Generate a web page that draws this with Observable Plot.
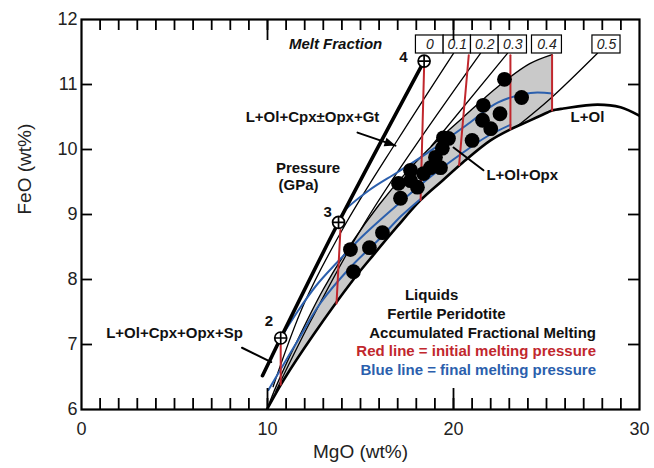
<!DOCTYPE html>
<html><head><meta charset="utf-8">
<script src="https://cdn.jsdelivr.net/npm/d3@7"></script>
<script src="https://cdn.jsdelivr.net/npm/@observablehq/plot@0.6"></script>
<style>body{margin:0;background:#fff} svg{font-family:"Liberation Sans",Arial,Helvetica,sans-serif}</style>
</head><body><div id="chart"></div>
<script>
// L+Ol boundary (lower edge of grey field)
const lowerX = [9.97,10.86,12.47,14.62,15.70,16.99,18.23,19.40,20.50,21.99,23.06,23.60,25.05,25.30,25.91,27.74,28.98,30.05];
const lowerY = [6.00,6.45,7.15,8.00,8.38,8.82,9.22,9.52,9.80,10.14,10.31,10.38,10.57,10.60,10.63,10.69,10.65,10.51];
// upper edge of grey field (0.4 melt fraction)
const upperX = [9.97,10.5,11.5,13.0,14.5,16.0,17.5,19.0,20.5,22.4,24.1,25.3];
const upperY = [6.00,6.38,7.00,7.85,8.55,9.15,9.66,10.10,10.49,10.97,11.32,11.46];
// solidus (melt fraction 0) with pressure marks
const solidusX = [9.73,10.71,13.82,18.42];
const solidusY = [6.52,7.10,8.88,11.36];
const pressureLabels = ["2","3","4"];
const pressureX = [10.71,13.82,18.42];
const pressureY = [7.10,8.88,11.36];
const pressureLabelX = [10.07,13.23,17.31];
const pressureLabelY = [7.36,9.03,11.415];
// melt fraction isopleths
const iso01X = [20.0,17.0,14.25,12.0,10.3];
const iso01Y = [11.48,10.15,8.88,7.65,6.35];
const iso02X = [21.45,15.5,12.3,10.45];
const iso02Y = [11.48,9.0,7.35,6.28];
const iso03X = [22.9,18.8];
const iso03Y = [11.48,10.05];
const iso05X = [27.74,25.2,23.44];
const iso05Y = [11.48,10.78,10.36];
// red lines = initial melting pressure
const redLines = [
  {x:[10.71,10.71], y:[7.00,6.38]},
  {x:[13.92,13.71], y:[8.76,7.63]},
  {x:[18.42,18.23], y:[11.27,9.22]},
  {x:[20.82,20.30], y:[11.45,9.76]},
  {x:[23.06,23.06], y:[11.45,10.31]},
  {x:[25.30,25.30], y:[11.45,10.60]}
];
// blue lines = final melting pressure
const blue1X = [13.82,14.09,15.5,16.99,18.76,20.91,22.37,24.14,25.32];
const blue1Y = [8.88,9.04,9.38,9.65,9.98,10.42,10.72,10.87,10.86];
const blue2X = [10.71,11.6,12.6,13.7,15.16,16.99,18.76,20.5,21.8,23.06];
const blue2Y = [7.10,7.50,7.90,8.25,8.68,9.15,9.58,9.95,10.2,10.38];
const blue3X = [10.05,11.5,12.88,14.5,16.0,17.2,18.23];
const blue3Y = [6.30,7.00,7.65,8.20,8.62,8.98,9.24];
// liquid compositions (black dots)
const dotX = [14.46,15.48,16.18,14.62,17.15,17.04,17.69,18.06,18.39,18.76,19.30,19.03,19.40,19.73,21.00,21.60,21.56,22.00,22.50,22.74,23.66,17.69,19.46];
const dotY = [8.46,8.49,8.72,8.12,9.25,9.48,9.52,9.42,9.63,9.72,9.72,9.88,10.02,10.17,10.14,10.68,10.45,10.32,10.55,11.08,10.80,9.68,10.18];
// melt fraction boxes
const mfLabels = ["0","0.1","0.2","0.3","0.4","0.5"];
const mfX1 = [17.98,19.47,20.94,22.43,24.22,27.47];
const mfX2 = [19.47,20.94,22.43,23.95,25.83,28.98];
const mfY1 = 11.477, mfY2 = 11.754;
// pointer lines
const ptrSpX = [8.63,10.2], ptrSpY = [6.95,6.73];
const ptrOpxX = [20.0,21.61], ptrOpxY = [10.03,9.68];
const ptrGtX = [14.84,16.88], ptrGtY = [10.26,10.06];
// field labels
const fieldText = ["L+Ol+Cpx±Opx+Gt","Pressure","(GPa)","L+Ol","L+Ol+Cpx+Opx+Sp","Liquids","Fertile Peridotite"];
const fieldX = [12.42,12.18,11.67,27.2,5.0,18.82,19.62];
const fieldY = [10.49,9.72,9.45,10.49,7.18,7.76,7.47];
const legendText = ["Accumulated Fractional Melting","Red line = initial melting pressure","Blue line = final melting pressure"];
const legendY = [7.18,6.89,6.60];
const legendX = 27.66;
// ticks
const xTickLabels = [0,10,20,30];
const yTickLabels = [6,7,8,9,10,11,12];
const xMinor = d3.range(1,30);
const xMajor = [10,20];
const yMinor = [7,8,9,10,11];

const RED = "#c1272d", BLUE = "#2b5fad";
const pts = (xs, ys) => xs.map((x,i)=>({x, y: ys[i]}));
const grey = pts(upperX, upperY).concat(pts(lowerX, lowerY).filter(d=>d.x<=25.3).reverse());

const oplus = {draw(ctx, size){ const r = Math.sqrt(size/Math.PI);
  ctx.moveTo(r,0); ctx.arc(0,0,r,0,2*Math.PI);
  ctx.moveTo(-r,0); ctx.lineTo(r,0); ctx.moveTo(0,-r); ctx.lineTo(0,r);} };
const ang = Math.atan2(13, 38);
const arrowHead = {draw(ctx){ const L=11, W=4.5, ux=Math.cos(ang), uy=Math.sin(ang);
  ctx.moveTo(0,0); ctx.lineTo(-L*ux - W*uy, -L*uy + W*ux); ctx.lineTo(-L*ux + W*uy, -L*uy - W*ux); ctx.closePath();} };

const lineOpts = (extra) => Object.assign({x:"x", y:"y", clip:true}, extra);

const chart = Plot.plot({
  width: 654, height: 468,
  marginLeft: 81, marginRight: 15, marginTop: 19, marginBottom: 59,
  x: {domain:[0,30]}, y: {domain:[6,12]},
  style: {fontFamily: '"Liberation Sans",Arial,sans-serif', background: "white"},
  marks: [
    Plot.line(grey, lineOpts({fill:"#c9c9c9", stroke:"none"})),
    Plot.line(pts(upperX, upperY), lineOpts({stroke:"black", strokeWidth:1.4, curve:"catmull-rom"})),
    Plot.line(pts(iso01X, iso01Y), lineOpts({stroke:"black", strokeWidth:1.3, curve:"catmull-rom"})),
    Plot.line(pts(iso02X, iso02Y), lineOpts({stroke:"black", strokeWidth:1.3, curve:"catmull-rom"})),
    Plot.line(pts(iso03X, iso03Y), lineOpts({stroke:"black", strokeWidth:1.3})),
    Plot.line(pts(iso05X, iso05Y), lineOpts({stroke:"black", strokeWidth:1.3, curve:"catmull-rom"})),
    Plot.line(pts(lowerX, lowerY), lineOpts({stroke:"black", strokeWidth:2.6, curve:"catmull-rom"})),
    Plot.line(pts(blue1X, blue1Y), lineOpts({stroke:BLUE, strokeWidth:2, curve:"catmull-rom"})),
    Plot.line(pts(blue2X, blue2Y), lineOpts({stroke:BLUE, strokeWidth:2, curve:"catmull-rom"})),
    Plot.line(pts(blue3X, blue3Y), lineOpts({stroke:BLUE, strokeWidth:2, curve:"catmull-rom"})),
    ...redLines.map(r => Plot.line(pts(r.x, r.y), lineOpts({stroke:RED, strokeWidth:2}))),
    Plot.line(pts(solidusX, solidusY), lineOpts({stroke:"black", strokeWidth:3.6, curve:"catmull-rom"})),
    Plot.dot(pts(dotX, dotY), {x:"x", y:"y", r:7.4, fill:"black"}),
    Plot.dot(pts(pressureX, pressureY), {x:"x", y:"y", r:6, symbol:oplus, fill:"white", stroke:"black", strokeWidth:1.7}),
    Plot.line(pts(ptrSpX, ptrSpY), lineOpts({stroke:"black", strokeWidth:2})),
    Plot.line(pts(ptrOpxX, ptrOpxY), lineOpts({stroke:"black", strokeWidth:2})),
    Plot.line(pts(ptrGtX, ptrGtY), lineOpts({stroke:"black", strokeWidth:2})),
    Plot.dot([{x:ptrGtX[1], y:ptrGtY[1]}], {x:"x", y:"y", r:5, symbol:arrowHead, fill:"black", stroke:"none"}),
    Plot.rect(mfLabels.map((t,i)=>({t, x1:mfX1[i], x2:mfX2[i]})), {x1:"x1", x2:"x2", y1:mfY1, y2:mfY2, fill:"white", stroke:"black", strokeWidth:1.2}),
    Plot.text(mfLabels.map((t,i)=>({t, x:(mfX1[i]+mfX2[i])/2})), {x:"x", y:(mfY1+mfY2)/2, text:"t", fontSize:14, fontStyle:"italic", fill:"#222"}),
    Plot.text(["Melt Fraction"], {x:13.66, y:11.615, text:d=>d, fontSize:15, fontWeight:"bold", fontStyle:"italic", fill:"#111"}),
    Plot.text(pressureLabels.map((t,i)=>({t, x:pressureLabelX[i], y:pressureLabelY[i]})), {x:"x", y:"y", text:"t", fontSize:15, fontWeight:"bold", fill:"#111"}),
    Plot.text(fieldText.map((t,i)=>({t, x:fieldX[i], y:fieldY[i]})), {x:"x", y:"y", text:"t", fontSize:15, fontWeight:"bold", fill:"#111"}),
    Plot.text([{t:"L+Ol+Opx", x:21.77, y:9.6}], {x:"x", y:"y", text:"t", textAnchor:"start", fontSize:15, fontWeight:"bold", fill:"#111"}),
    Plot.text(legendText.map((t,i)=>({t, y:legendY[i], c:i})), {x:legendX, y:"y", text:"t", textAnchor:"end", fontSize:15, fontWeight:"bold", fill:d=>d.c===1?RED:d.c===2?BLUE:"#111"}),
    // ticks (inward)
    Plot.ruleX(xMinor, {x:d=>d, y1:6, y2:6+11/65, stroke:"black", strokeWidth:1.8}),
    Plot.ruleX(xMinor, {x:d=>d, y1:12, y2:12-11/65, stroke:"black", strokeWidth:1.8}),
    Plot.ruleX(xMajor, {x:d=>d, y1:6, y2:6+21/65, stroke:"black", strokeWidth:1.8}),
    Plot.ruleX(xMajor, {x:d=>d, y1:12, y2:12-21/65, stroke:"black", strokeWidth:1.8}),
    Plot.ruleY(yMinor, {y:d=>d, x1:0, x2:11/18.6, stroke:"black", strokeWidth:1.8}),
    Plot.ruleY(yMinor, {y:d=>d, x1:30, x2:30-11/18.6, stroke:"black", strokeWidth:1.8}),
    Plot.frame({stroke:"black", strokeWidth:2.2}),
    Plot.axisX({ticks:xTickLabels, tickFormat:d3.format("d"), tickSize:0, tickPadding:13, fontSize:18, label:null, fill:"#222"}),
    Plot.axisY({ticks:yTickLabels, tickFormat:d3.format("d"), tickSize:0, tickPadding:4, fontSize:18, label:null, fill:"#222"}),
    Plot.text(["MgO (wt%)"], {frameAnchor:"bottom", dy:48, text:d=>d, fontSize:19, fill:"#222"}),
    Plot.text(["FeO (wt%)"], {frameAnchor:"left", dx:-57, rotate:-90, text:d=>d, fontSize:19, fill:"#222"})
  ]
});
document.getElementById("chart").appendChild(chart);
</script>
</body></html>
